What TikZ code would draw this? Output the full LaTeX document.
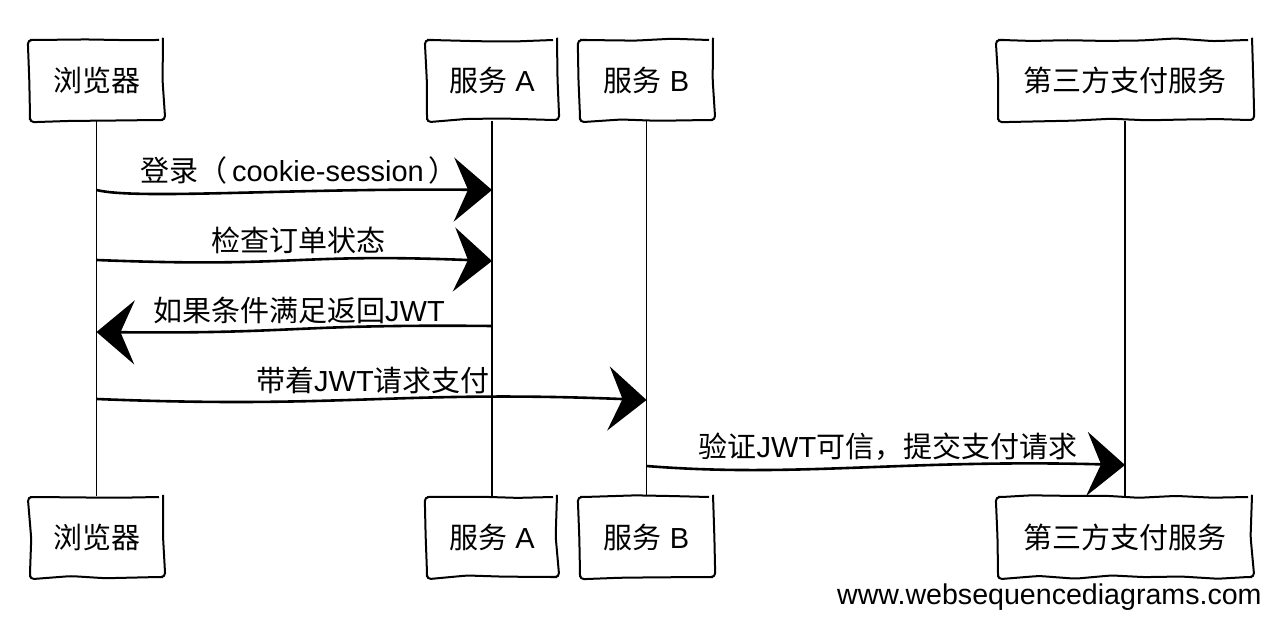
\documentclass[tikz,border=0pt]{standalone}
\usepackage{fontspec}
\setmainfont{Liberation Sans}
\newfontfamily\cjk{Noto Sans CJK SC}
\usetikzlibrary{arrows.meta,decorations.pathmorphing}
\newcommand\zh[1]{{\cjk #1}}
\begin{document}
\begin{tikzpicture}[x=0.5pt,y=-0.5pt,
  font=\fontsize{14.5}{17}\selectfont,
  actor/.style={draw, line width=1pt, minimum height=40pt, inner sep=0pt,
    decorate, decoration={random steps, segment length=18pt, amplitude=0.9pt},
    rounded corners=2pt},
  life/.style={line width=0.6pt},
  msg/.style={line width=1.3pt, -{Stealth[length=19pt,width=32pt,inset=7pt]}},
  lbl/.style={inner sep=0pt}]
\pgfmathsetseed{11}
\useasboundingbox (0,0) rectangle (1278,630);
% actors top
\node[actor, minimum width=66.5pt] (bt) at (96.5,80) {\zh{浏览器}};
\node[actor, minimum width=65pt]   (at) at (492,80) {\zh{服务} A};
\node[actor, minimum width=66.5pt] (ct) at (646.5,80) {\zh{服务} B};
\node[actor, minimum width=127pt]  (dt) at (1125,80) {\zh{第三方支付服务}};
% actors bottom
\node[actor, minimum width=66.5pt] (bb) at (96.5,537) {\zh{浏览器}};
\node[actor, minimum width=65pt]   (ab) at (492,537) {\zh{服务} A};
\node[actor, minimum width=66.5pt] (cb) at (646.5,537) {\zh{服务} B};
\node[actor, minimum width=127pt]  (db) at (1125,537) {\zh{第三方支付服务}};
% lifelines
\draw[life] (bt.south) -- (bb.north);
\draw[life] (at.south) -- (ab.north);
\draw[life] (ct.south) -- (cb.north);
\draw[life] (dt.south) -- (db.north);
% message end points
\coordinate (m1s) at (bt.south |- 0,190);
\coordinate (m1e) at (at.south |- 0,190);
\coordinate (m2s) at (bt.south |- 0,260);
\coordinate (m2e) at (at.south |- 0,261);
\coordinate (m3s) at (at.south |- 0,326);
\coordinate (m3e) at (bt.south |- 0,332);
\coordinate (m4s) at (bt.south |- 0,399);
\coordinate (m4e) at (ct.south |- 0,400);
\coordinate (m5s) at (ct.south |- 0,466);
\coordinate (m5e) at (dt.south |- 0,465);
% messages
\draw[msg] (m1s) .. controls +(40,10) and +(-200,-2) .. (m1e);
\draw[msg] (m2s) .. controls +(200,8) and +(-200,-8) .. (m2e);
\draw[msg] (m3s) .. controls +(-200,-2) and +(200,2) .. (m3e);
\draw[msg] (m4s) .. controls +(250,10) and +(-250,-10) .. (m4e);
\draw[msg] (m5s) .. controls +(150,12) and +(-220,-6) .. (m5e);
% labels
\node[lbl] (l1) at (299,170) {\zh{登录（}\,cookie-session\,\zh{）}};
\node[lbl] (l2) at (298,240) {\zh{检查订单状态}};
\node[lbl] (l3) at (299,310) {\zh{如果条件满足返回}JWT};
\node[lbl] (l4) at (373,380) {\zh{带着}JWT\zh{请求支付}};
\node[lbl] (l5) at (888,447) {\zh{验证}JWT\zh{可信，提交支付请求}};
\node[lbl, anchor=east, font=\fontsize{14.3}{17}\selectfont] (wm) at (1262,597) {www.websequencediagrams.com};
\end{tikzpicture}
\end{document}
